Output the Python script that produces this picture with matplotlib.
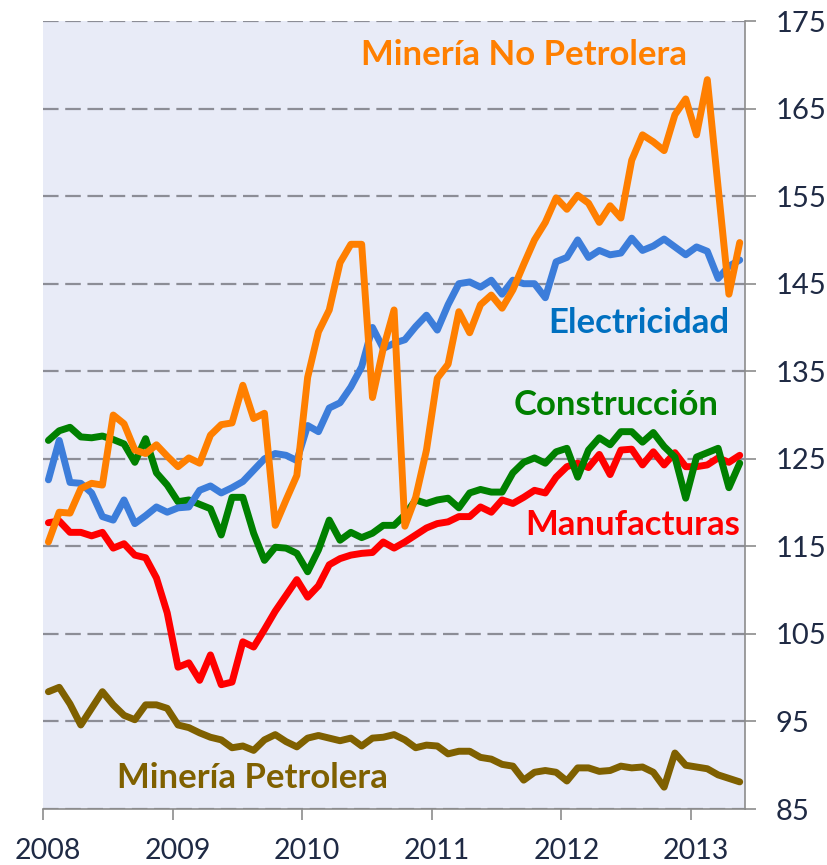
import numpy as np
import matplotlib
matplotlib.use("Agg")
import matplotlib.pyplot as plt

plt.rcParams['font.family'] = ['Lato', 'DejaVu Sans']

# monthly index values, Jan 2008 - May 2013
years = ['2008', '2009', '2010', '2011', '2012', '2013']

petrolera = [98.4, 98.9, 97.0, 94.6, 96.5, 98.4, 96.9, 95.7, 95.2, 96.9,
             96.9, 96.5, 94.6, 94.3, 93.7, 93.2, 92.9, 92.0, 92.2, 91.7,
             92.9, 93.5, 92.7, 92.1, 93.1, 93.4, 93.1, 92.8, 93.1, 92.2,
             93.1, 93.2, 93.5, 92.9, 92.0, 92.3, 92.2, 91.3, 91.6, 91.6,
             90.9, 90.7, 90.1, 89.9, 88.3, 89.2, 89.4, 89.2, 88.2, 89.7,
             89.7, 89.3, 89.4, 89.9, 89.7, 89.8, 89.2, 87.5, 91.4, 90.0,
             89.8, 89.6, 88.9, 88.5, 88.1]

manufacturas = [117.7, 117.9, 116.6, 116.6, 116.2, 116.6, 114.8, 115.3, 114.0, 113.7,
                111.4, 107.4, 101.2, 101.7, 99.7, 102.6, 99.2, 99.5, 104.1, 103.5,
                105.5, 107.6, 109.4, 111.2, 109.2, 110.5, 112.9, 113.6, 114.0, 114.2,
                114.3, 115.5, 114.8, 115.5, 116.3, 117.1, 117.6, 117.8, 118.4, 118.4,
                119.5, 118.9, 120.3, 119.9, 120.6, 121.4, 121.1, 122.9, 124.1, 124.5,
                124.0, 125.5, 123.2, 126.0, 126.1, 124.3, 125.8, 124.3, 125.7, 124.1,
                124.1, 124.3, 125.1, 124.6, 125.4]

construccion = [127.1, 128.2, 128.6, 127.5, 127.4, 127.6, 127.2, 126.7, 124.6, 127.3,
                123.4, 122.0, 120.1, 120.3, 119.8, 119.3, 116.3, 120.6, 120.6, 116.5,
                113.4, 114.9, 114.8, 114.2, 112.1, 114.6, 118.0, 115.7, 116.6, 116.0,
                116.5, 117.4, 117.4, 118.6, 120.3, 119.9, 120.3, 120.5, 119.4, 121.1,
                121.5, 121.2, 121.2, 123.4, 124.6, 125.1, 124.5, 125.8, 126.2, 122.9,
                126.0, 127.4, 126.6, 128.1, 128.1, 126.9, 128.0, 126.4, 125.2, 120.5,
                125.2, 125.7, 126.2, 121.7, 124.5]

electricidad = [122.6, 127.1, 122.3, 122.2, 121.1, 118.4, 118.0, 120.3, 117.6, 118.5,
                119.5, 118.9, 119.4, 119.5, 121.4, 121.9, 121.1, 121.7, 122.4, 123.7,
                125.0, 125.6, 125.4, 124.8, 128.8, 128.1, 130.8, 131.4, 133.2, 135.5,
                140.0, 137.6, 138.2, 138.6, 140.1, 141.4, 139.7, 142.6, 145.0, 145.2,
                144.6, 145.4, 143.8, 145.4, 145.0, 145.0, 143.4, 147.5, 148.0, 150.0,
                148.0, 148.8, 148.3, 148.5, 150.2, 148.8, 149.3, 150.1, 149.2, 148.3,
                149.2, 148.7, 145.6, 147.0, 147.7]

no_petrolera = [115.5, 118.9, 118.8, 121.6, 122.2, 122.0, 130.0, 129.0, 126.0, 125.6,
                126.6, 125.3, 124.1, 125.1, 124.5, 127.7, 128.9, 129.1, 133.4, 129.6,
                130.2, 117.4, 120.3, 123.1, 134.3, 139.5, 142.0, 147.4, 149.5, 149.5,
                132.0, 137.6, 142.0, 117.3, 120.6, 126.0, 134.2, 135.8, 141.8, 139.4,
                142.6, 143.7, 142.2, 144.3, 147.2, 150.0, 152.0, 154.8, 153.5, 155.1,
                154.2, 152.0, 153.9, 152.5, 159.1, 162.0, 161.2, 160.2, 164.3, 166.1,
                162.0, 168.3, 156.0, 143.8, 149.7]

series = [
    (petrolera, '#7F6000'),
    (manufacturas, '#FF0000'),
    (construccion, '#008000'),
    (electricidad, '#3C7DDA'),
    (no_petrolera, '#FF7F00'),
]

n = len(petrolera)
x = np.arange(n)

fig = plt.figure(figsize=(8.27, 8.65), dpi=100)
ax = fig.add_axes([0.052, 0.0647, 0.849, 0.911])
ax.set_facecolor('#E8EBF7')

for vals, col in series:
    ax.plot(x, vals, color=col, lw=5.0, solid_joinstyle='round',
            solid_capstyle='round', zorder=3)

ax.set_xlim(-0.5, n - 0.5)
ax.set_ylim(85, 175)
ax.yaxis.tick_right()
ax.set_yticks(np.arange(85, 176, 10))
ax.grid(axis='y', color='#8C8D96', lw=1.6, linestyle=(0, (7, 3)), zorder=1)

# tick marks at year boundaries, labels a bit to the right of them
ax.set_xticks(np.arange(-0.5, n - 0.5, 12))
ax.set_xticklabels([])
ax.set_xticks(np.arange(-0.5, n - 0.5, 12) + 0.45, minor=True)
ax.set_xticklabels(years, minor=True)

for s in ['left', 'top']:
    ax.spines[s].set_visible(False)
for s in ['right', 'bottom']:
    ax.spines[s].set_color('#8C8C8C')
    ax.spines[s].set_linewidth(1.2)

ax.tick_params(axis='y', length=8, width=1.2, color='#8C8C8C', pad=14,
               labelsize=21, labelcolor='#1F2A44')
ax.tick_params(axis='x', which='major', length=8, width=1.2, color='#8C8C8C')
ax.tick_params(axis='x', which='minor', length=0, pad=21,
               labelsize=20.5, labelcolor='#1F2A44')

# series labels
lab = dict(fontsize=25, fontweight='bold', ha='center', va='baseline', zorder=4)
ax.text(44.0, 170.0, 'Minería No Petrolera', color='#FF7F00', **lab)
ax.text(54.7, 139.4, 'Electricidad', color='#0070C0', **lab)
ax.text(52.6, 130.0, 'Construcción', color='#008000', **lab)
ax.text(54.1, 116.3, 'Manufacturas', color='#FF0000', **lab)
ax.text(18.85, 87.4, 'Minería Petrolera', color='#7F6000', **lab)

fig.savefig('out.png', dpi=100)
